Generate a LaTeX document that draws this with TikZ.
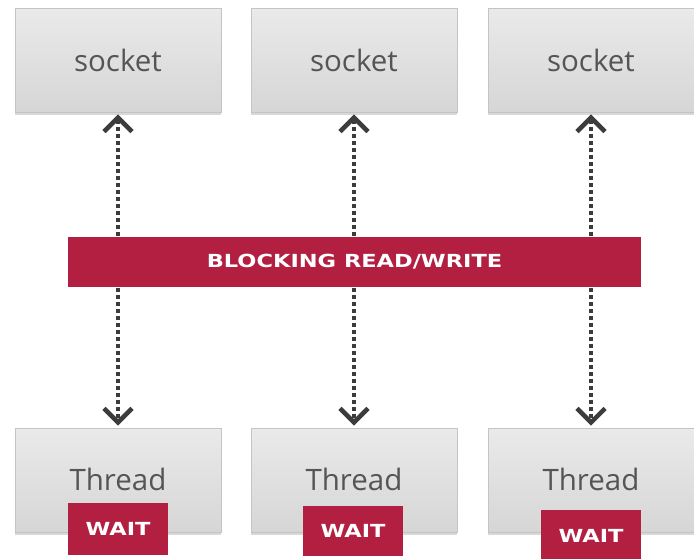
\documentclass[tikz,border=0pt]{standalone}
\usepackage{fontspec}
\setmainfont{Open Sans}
\newfontfamily\bannerfont[FakeStretch=1.25]{DejaVu Sans}
\usetikzlibrary{arrows.meta,shadows}
\definecolor{boxtop}{HTML}{EAEAEA}
\definecolor{boxbot}{HTML}{D6D6D6}
\definecolor{boxline}{HTML}{C4C4C4}
\definecolor{redband}{HTML}{B21F41}
\definecolor{txtgray}{HTML}{555555}
\definecolor{arrgray}{HTML}{3C3C3C}
\tikzset{
  graybox/.style={draw=boxline, line width=0.8pt, top color=boxtop, bottom color=boxbot,
    minimum width=206pt, minimum height=104pt, inner sep=0pt,
    drop shadow={shadow xshift=0pt, shadow yshift=-3pt, opacity=0.25, fill=black!60}},
  boxtext/.style={text=txtgray, font=\fontsize{29.5}{32}\selectfont, inner sep=0pt},
  redbox/.style={fill=redband, draw=none, inner sep=0pt},
  redtext/.style={text=white, font=\bannerfont\bfseries\fontsize{18}{20}\selectfont, inner sep=0pt},
  chev/.tip={Straight Barb[length=14pt,width=28pt,line width=4.5pt]},
  dotarrow/.style={draw=arrgray, line width=4.5pt, dash pattern=on 4pt off 3pt,
    chev-chev, shorten <=2pt, shorten >=2pt}
}
\begin{document}
\begin{tikzpicture}[x=1pt,y=-1pt]
\useasboundingbox[fill=white] (0,0) rectangle (694,558);
% socket boxes
\node[graybox] (s1) at (118,60) {};
\node[graybox] (s2) at (354,60) {};
\node[graybox] (s3) at (591,60) {};
\node[boxtext] at (118,60) {socket};
\node[boxtext] at (354,60) {socket};
\node[boxtext] at (591,60) {socket};
% thread boxes
\node[graybox] (t1) at (118,480) {};
\node[graybox] (t2) at (354,480) {};
\node[graybox] (t3) at (591,480) {};
\node[boxtext] (tt1) at (118,479) {Thread};
\node[boxtext] (tt2) at (354,479) {Thread};
\node[boxtext] (tt3) at (591,479) {Thread};
% arrows
\draw[dotarrow] (s1.south) -- (t1.north);
\draw[dotarrow] (s2.south) -- (t2.north);
\draw[dotarrow] (s3.south) -- (t3.north);
% banner
\node[redbox, minimum width=573pt, minimum height=50pt] (band) at (354.5,262) {};
\node[redtext] at (band.center) {BLOCKING READ/WRITE};
% wait boxes
\node[redbox, minimum width=100pt, minimum height=52pt] (w1) at (118,529) {};
\node[redbox, minimum width=100pt, minimum height=50pt] (w2) at (353,531) {};
\node[redbox, minimum width=100pt, minimum height=50pt] (w3) at (591,535) {};
\node[redtext] at (w1.center) {WAIT};
\node[redtext] at (w2.center) {WAIT};
\node[redtext] at ([yshift=-1pt]w3.center) {WAIT};
\end{tikzpicture}
\end{document}
